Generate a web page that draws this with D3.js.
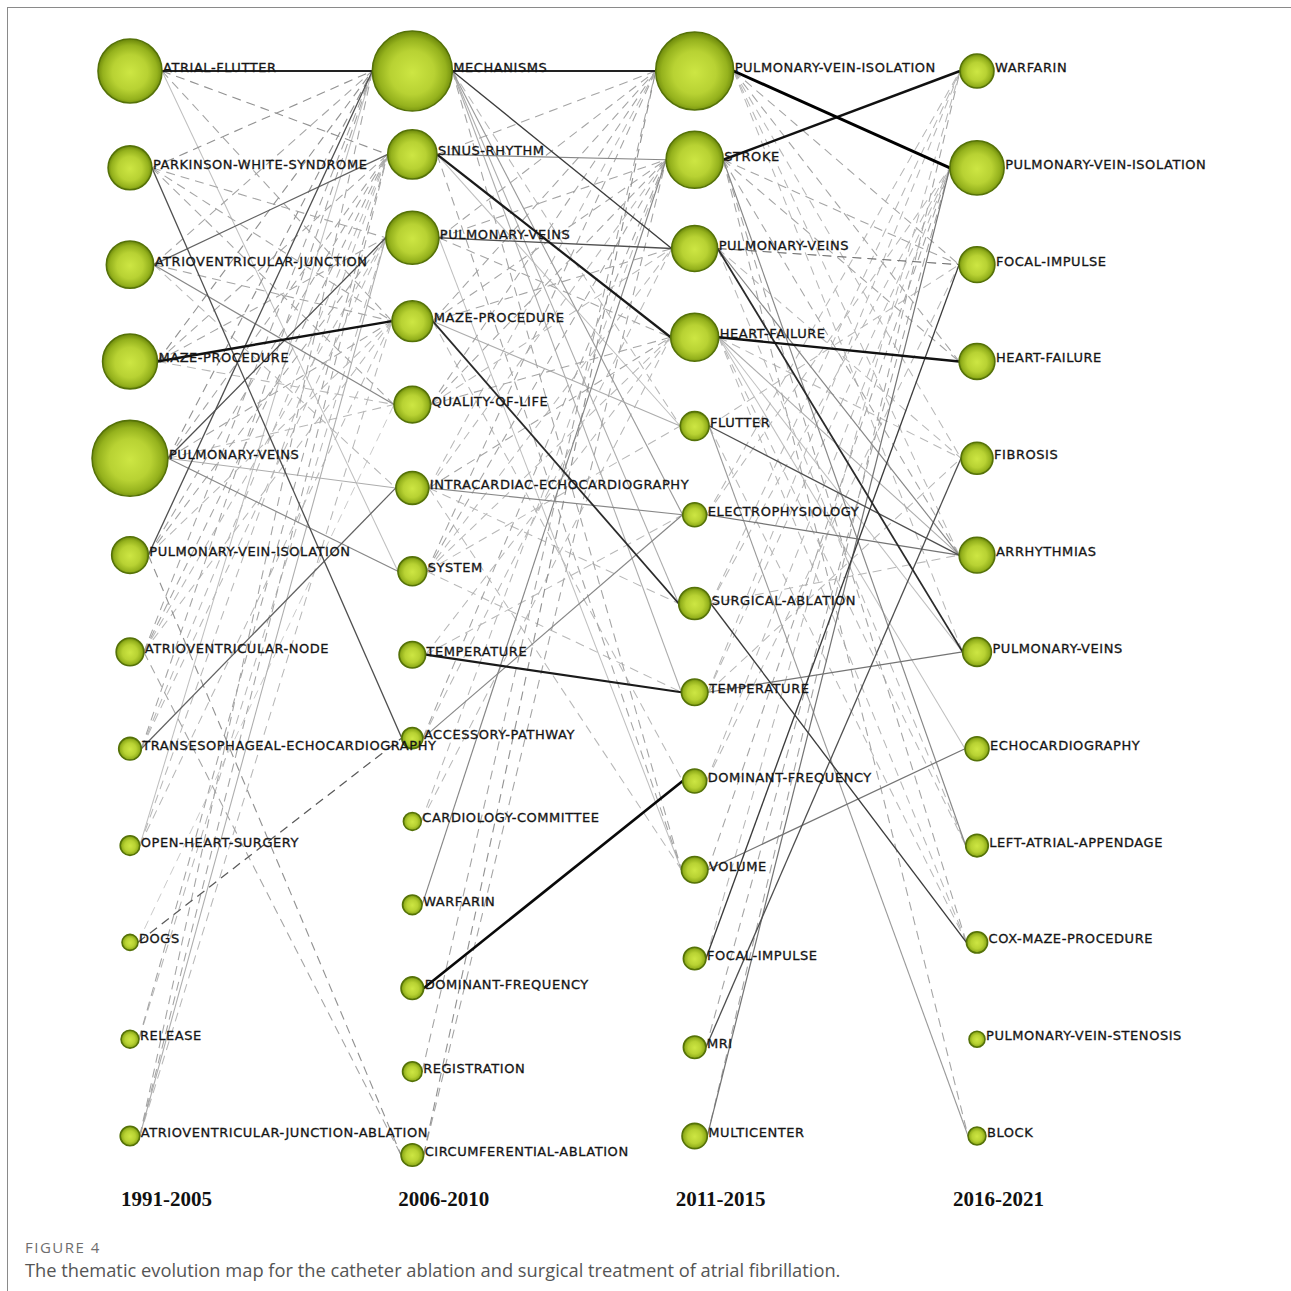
<!DOCTYPE html>
<html>
<head>
<meta charset="utf-8">
<script src="https://cdn.jsdelivr.net/npm/d3@7"></script>
<style>
  html, body { margin: 0; padding: 0; background: #fff; }
  svg { display: block; }
</style>
</head>
<body>
<svg id="chart" width="1291" height="1291"></svg>
<script>
// ---- Periods ----
const periods = ["1991-2005", "2006-2010", "2011-2015", "2016-2021"];

// ---- Themes per period (name + number of documents) ----
const themes1991 = ["ATRIAL-FLUTTER", "PARKINSON-WHITE-SYNDROME", "ATRIOVENTRICULAR-JUNCTION", "MAZE-PROCEDURE",
  "PULMONARY-VEINS", "PULMONARY-VEIN-ISOLATION", "ATRIOVENTRICULAR-NODE", "TRANSESOPHAGEAL-ECHOCARDIOGRAPHY",
  "OPEN-HEART-SURGERY", "DOGS", "RELEASE", "ATRIOVENTRICULAR-JUNCTION-ABLATION"];
const docs1991 = [64, 30, 35, 47, 90, 21, 12, 8, 6, 4, 5, 6];

const themes2006 = ["MECHANISMS", "SINUS-RHYTHM", "PULMONARY-VEINS", "MAZE-PROCEDURE", "QUALITY-OF-LIFE",
  "INTRACARDIAC-ECHOCARDIOGRAPHY", "SYSTEM", "TEMPERATURE", "ACCESSORY-PATHWAY", "CARDIOLOGY-COMMITTEE",
  "WARFARIN", "DOMINANT-FREQUENCY", "REGISTRATION", "CIRCUMFERENTIAL-ABLATION"];
const docs2006 = [100, 38, 44, 26, 21, 17, 13, 11, 7, 5, 6, 8, 6, 8];

const themes2011 = ["PULMONARY-VEIN-ISOLATION", "STROKE", "PULMONARY-VEINS", "HEART-FAILURE", "FLUTTER",
  "ELECTROPHYSIOLOGY", "SURGICAL-ABLATION", "TEMPERATURE", "DOMINANT-FREQUENCY", "VOLUME",
  "FOCAL-IMPULSE", "MRI", "MULTICENTER"];
const docs2011 = [95, 51, 33, 36, 13, 9, 16, 11, 9, 11, 8, 8, 10];

const themes2016 = ["WARFARIN", "PULMONARY-VEIN-ISOLATION", "FOCAL-IMPULSE", "HEART-FAILURE", "FIBROSIS",
  "ARRHYTHMIAS", "PULMONARY-VEINS", "ECHOCARDIOGRAPHY", "LEFT-ATRIAL-APPENDAGE", "COX-MAZE-PROCEDURE",
  "PULMONARY-VEIN-STENOSIS", "BLOCK"];
const docs2016 = [18, 46, 20, 20, 16, 20, 13, 9, 8, 7, 4, 5];

// ---- Evolution links: [from theme, to theme, inclusion index, shares theme name?] ----
const links1991to2006 = [
  [0,0,0.75,true],[3,3,0.85,true],
  [1,8,0.55,true],[2,1,0.5,true],[4,2,0.55,true],[5,0,0.55,true],[7,5,0.5,true],
  [4,6,0.4,true],[2,4,0.4,true],[11,2,0.3,true],[8,0,0.25,true],[4,5,0.3,true],[0,6,0.25,true],
  [0,1,0.35,false],[0,3,0.3,false],[1,0,0.35,false],[1,2,0.3,false],[1,3,0.3,false],[1,4,0.3,false],
  [2,0,0.3,false],[2,3,0.3,false],[2,5,0.25,false],[3,0,0.35,false],[3,1,0.3,false],[3,2,0.3,false],
  [3,4,0.25,false],[4,0,0.35,false],[4,1,0.3,false],[4,3,0.3,false],[4,4,0.25,false],[5,1,0.3,false],
  [5,2,0.3,false],[5,3,0.25,false],[5,13,0.35,false],[6,0,0.3,false],[6,1,0.3,false],[6,2,0.25,false],
  [6,3,0.25,false],[6,13,0.3,false],[7,0,0.3,false],[7,1,0.25,false],[7,2,0.25,false],[8,1,0.25,false],
  [8,3,0.25,false],[9,8,0.5,false],[9,4,0.2,false],[10,1,0.3,false],[10,2,0.25,false],[11,0,0.3,false],
  [11,1,0.3,false],[11,3,0.25,false]
];

const links2006to2011 = [
  [0,0,0.75,true],[1,3,0.8,true],[7,7,0.8,true],[11,8,0.9,true],[3,6,0.7,true],
  [0,2,0.6,true],[2,2,0.55,true],
  [1,1,0.4,true],[5,5,0.4,true],[8,5,0.4,true],[10,1,0.4,true],[0,5,0.35,true],[0,7,0.3,true],
  [0,6,0.3,true],[3,4,0.3,true],[1,4,0.25,true],[2,9,0.25,true],
  [1,0,0.3,false],[2,0,0.3,false],[3,0,0.3,false],[4,0,0.3,false],[5,0,0.25,false],[6,0,0.3,false],
  [12,0,0.3,false],[13,0,0.35,false],[2,1,0.3,false],[3,1,0.3,false],[4,1,0.3,false],[5,1,0.25,false],
  [6,1,0.3,false],[8,1,0.3,false],[9,1,0.25,false],[13,1,0.3,false],[3,2,0.3,false],[4,2,0.25,false],
  [6,2,0.25,false],[8,2,0.25,false],[2,3,0.3,false],[4,3,0.3,false],[5,3,0.3,false],[6,3,0.25,false],
  [7,3,0.25,false],[9,3,0.25,false],[0,4,0.25,false],[6,4,0.25,false],[5,6,0.25,false],[7,5,0.25,false],
  [6,7,0.25,false],[3,8,0.25,false],[0,9,0.3,false],[1,9,0.3,false],[5,9,0.25,false]
];

const links2011to2016 = [
  [0,1,0.95,true],[1,0,0.85,true],[3,3,0.85,true],[2,6,0.7,true],
  [6,9,0.6,true],[10,2,0.6,true],[4,5,0.55,true],[11,4,0.55,true],
  [5,5,0.45,true],[7,6,0.45,true],[9,7,0.45,true],[12,1,0.45,true],[1,8,0.4,true],[4,11,0.35,true],
  [2,5,0.4,true],[3,5,0.3,true],[3,6,0.25,true],[3,7,0.25,true],
  [0,2,0.3,false],[0,3,0.3,false],[0,4,0.25,false],[0,5,0.25,false],[0,6,0.25,false],[1,2,0.3,false],
  [1,3,0.3,false],[1,5,0.3,false],[1,9,0.3,false],[1,11,0.3,false],[2,2,0.45,false],[2,4,0.25,false],
  [3,4,0.25,false],[3,8,0.25,false],[3,9,0.25,false],[4,2,0.25,false],[4,9,0.25,false],[5,0,0.25,false],
  [5,1,0.25,false],[6,0,0.25,false],[6,1,0.25,false],[6,5,0.25,false],[7,0,0.25,false],[7,1,0.25,false],
  [7,4,0.25,false],[8,1,0.25,false],[8,2,0.25,false],[9,1,0.3,false],[10,0,0.25,false],[11,1,0.3,false],
  [12,0,0.3,false],[2,8,0.25,false]
];

const caption = "The thematic evolution map for the catheter ablation and surgical treatment of atrial fibrillation.";

// ---- Build columns ----
const columns = [
  { themes: themes1991, docs: docs1991, bottom: 1136 },
  { themes: themes2006, docs: docs2006, bottom: 1155 },
  { themes: themes2011, docs: docs2011, bottom: 1136 },
  { themes: themes2016, docs: docs2016, bottom: 1136 }
];
const transitions = [links1991to2006, links2006to2011, links2011to2016];

const svg = d3.select("#chart");

const x = d3.scalePoint().domain(periods).range([130, 977]);
const xTitle = d3.scalePoint().domain(periods).range([121, 953]);
const r = d3.scaleSqrt().domain([0, 100]).range([0, 40]);
const ys = columns.map(c => d3.scalePoint().domain(d3.range(c.themes.length)).range([71, c.bottom]));

const nodes = columns.map((c, ci) => c.themes.map((name, i) => ({
  name, docs: c.docs[i], col: ci,
  cx: x(periods[ci]), cy: ys[ci](i), r: r(c.docs[i])
})));

// frame
svg.append("line").attr("x1", 7).attr("y1", 7.5).attr("x2", 1291).attr("y2", 7.5)
  .attr("stroke", "#8a8a8a").attr("stroke-width", 1);
svg.append("line").attr("x1", 7.5).attr("y1", 7).attr("x2", 7.5).attr("y2", 1291)
  .attr("stroke", "#8a8a8a").attr("stroke-width", 1);

// gradient for theme bubbles
const defs = svg.append("defs");
const grad = defs.append("radialGradient").attr("id", "bubble")
  .attr("cx", "50%").attr("cy", "52%").attr("r", "50%");
grad.append("stop").attr("offset", "0%").attr("stop-color", "#cde643");
grad.append("stop").attr("offset", "55%").attr("stop-color", "#b8d233");
grad.append("stop").attr("offset", "85%").attr("stop-color", "#95b21d");
grad.append("stop").attr("offset", "100%").attr("stop-color", "#738f0e");

const strokeColor = d3.scaleLinear().domain([0.2, 0.6, 0.95]).range(["#d2d2d2", "#3c3c3c", "#000"]).clamp(true);
const strokeWidth = d3.scaleLinear().domain([0.2, 0.6, 0.95]).range([1.0, 1.35, 2.9]).clamp(true);

// links
const allLinks = [];
transitions.forEach((links, ti) => {
  links.forEach(([s, t, w, named]) => {
    const a = nodes[ti][s], b = nodes[ti + 1][t];
    allLinks.push({ x1: a.cx + a.r, y1: a.cy, x2: b.cx - b.r, y2: b.cy, w, named });
  });
});
allLinks.sort((p, q) => p.w - q.w);

svg.append("g").attr("class", "links")
  .selectAll("line").data(allLinks).join("line")
  .attr("x1", d => d.x1).attr("y1", d => d.y1)
  .attr("x2", d => d.x2).attr("y2", d => d.y2)
  .attr("stroke", d => d.named ? strokeColor(d.w) : strokeColor(d.w + 0.02))
  .attr("stroke-width", d => strokeWidth(d.w))
  .attr("stroke-dasharray", d => d.named ? null : "9,6")
  .attr("fill", "none");

// bubbles
const flat = nodes.flat();
svg.append("g").attr("class", "nodes")
  .selectAll("circle").data(flat).join("circle")
  .attr("cx", d => d.cx).attr("cy", d => d.cy).attr("r", d => d.r)
  .attr("fill", "url(#bubble)")
  .attr("stroke", "#557208").attr("stroke-width", 1.6);

// theme labels
svg.append("g").attr("class", "labels")
  .selectAll("text").data(flat).join("text")
  .attr("x", d => d.cx + d.r + 1).attr("y", d => d.cy + 1)
  .attr("font-family", "DejaVu Sans, Verdana, sans-serif")
  .attr("font-size", 13).attr("letter-spacing", 0.55)
  .attr("fill", "#151515").attr("stroke", "#151515").attr("stroke-width", 0.3)
  .text(d => d.name);

// period titles
svg.append("g").selectAll("text").data(periods).join("text")
  .attr("x", d => xTitle(d)).attr("y", 1206)
  .attr("font-family", "Liberation Serif, Times New Roman, serif")
  .attr("font-weight", "bold").attr("font-size", 21)
  .attr("fill", "#111")
  .text(d => d);

// caption
svg.append("text").attr("x", 25).attr("y", 1253)
  .attr("font-family", "Open Sans, sans-serif").attr("font-size", 15)
  .attr("letter-spacing", 1.5).attr("fill", "#6e6e6e")
  .text("FIGURE 4");
svg.append("text").attr("x", 25).attr("y", 1277)
  .attr("font-family", "Open Sans, sans-serif").attr("font-size", 18.3)
  .attr("fill", "#555")
  .text(caption);
</script>
</body>
</html>
